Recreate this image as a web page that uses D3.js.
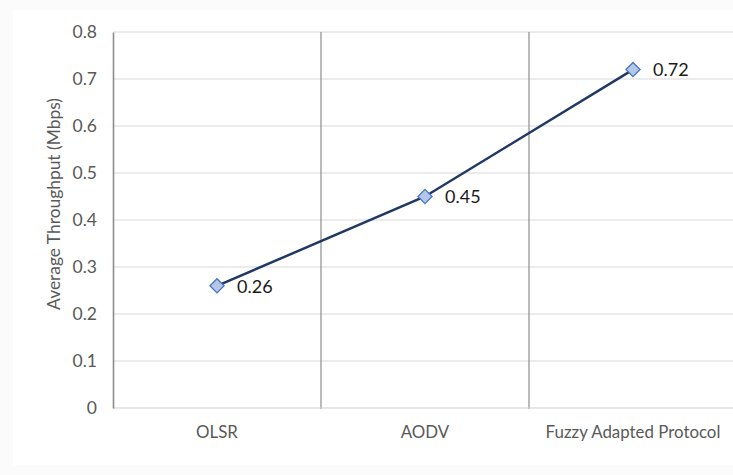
<!DOCTYPE html>
<html>
<head>
<meta charset="utf-8">
<script src="https://cdn.jsdelivr.net/npm/d3@7"></script>
<style>
  html, body { margin: 0; padding: 0; background: #ffffff; }
  svg { display: block; }
  svg text { font-family: Lato, "Open Sans", sans-serif; }
</style>
</head>
<body>
<svg id="chart" width="733" height="475"></svg>
<script>
// Average throughput per routing protocol
const categories = ["OLSR", "AODV", "Fuzzy Adapted Protocol"];
const throughput = [0.26, 0.45, 0.72];
const yTicks = [0, 0.1, 0.2, 0.3, 0.4, 0.5, 0.6, 0.7, 0.8];

const svg = d3.select("#chart");
const W = 733, H = 475;
const margin = { left: 113, top: 32, right: -4, bottom: 67 };

// size a text element's font so it spans the wanted width
function fitWidth(sel, target) {
  sel.style("font-size", "20px");
  const w = sel.node().getComputedTextLength();
  sel.style("font-size", (20 * target / w).toFixed(2) + "px");
}

// faint chart-area backdrop
svg.append("rect").attr("width", W).attr("height", H).attr("fill", "#fbfbfb");
svg.append("rect").attr("x", 13).attr("y", 10).attr("width", W - 13).attr("height", H - 20).attr("fill", "#ffffff");

const x = d3.scaleBand()
  .domain(categories)
  .range([margin.left, W - margin.right])
  .paddingInner(0).paddingOuter(0);

const y = d3.scaleLinear().domain([0, 0.8]).range([H - margin.bottom, margin.top]);

// horizontal gridlines
svg.append("g").selectAll("line").data(yTicks.filter(d => d > 0)).join("line")
  .attr("x1", margin.left).attr("x2", W)
  .attr("y1", d => y(d)).attr("y2", d => y(d))
  .attr("stroke", "#d9d9d9").attr("stroke-width", 1.2);

// category separators
svg.append("g").selectAll("line").data(categories.slice(1)).join("line")
  .attr("x1", d => x(d)).attr("x2", d => x(d))
  .attr("y1", y(0.8)).attr("y2", y(0) + 1)
  .attr("stroke", "#8c8c8c").attr("stroke-width", 1.2);

// x baseline
svg.append("line")
  .attr("x1", margin.left).attr("x2", W)
  .attr("y1", y(0)).attr("y2", y(0))
  .attr("stroke", "#d0d0d0").attr("stroke-width", 1.2);

// y axis
const yAxis = d3.axisLeft(y).tickValues(yTicks).tickSize(0).tickPadding(16)
  .tickFormat(d => d === 0 ? "0" : d3.format(".1f")(d));
const gy = svg.append("g").attr("transform", `translate(${margin.left},0)`).call(yAxis)
  .attr("font-family", null).attr("font-size", null);
gy.select(".domain").attr("stroke", "#8c8c8c").attr("stroke-width", 1.6);
gy.selectAll("text").attr("fill", "#595959").style("font-size", "17.5px");

// x axis labels
const xAxis = d3.axisBottom(x).tickSize(0).tickPadding(18);
const gx = svg.append("g").attr("transform", `translate(0,${y(0)})`).call(xAxis)
  .attr("font-family", null).attr("font-size", null);
gx.select(".domain").remove();
const xLabels = gx.selectAll("text").attr("fill", "#595959");
fitWidth(xLabels.filter(d => d === "Fuzzy Adapted Protocol"), 175);
xLabels.style("font-size", xLabels.filter(d => d === "Fuzzy Adapted Protocol").style("font-size"));

// y axis title
const title = svg.append("text")
  .attr("transform", `translate(60,204) rotate(-90)`)
  .attr("text-anchor", "middle")
  .attr("fill", "#595959")
  .text("Average Throughput (Mbps)");
fitWidth(title, 212);

const pts = categories.map((c, i) => ({ c, v: throughput[i] }));
const cx = d => x(d.c) + x.bandwidth() / 2;

// series line
svg.append("path").datum(pts)
  .attr("fill", "none").attr("stroke", "#203864").attr("stroke-width", 2.5)
  .attr("d", d3.line().x(cx).y(d => y(d.v)));

// diamond markers
svg.append("g").selectAll("path").data(pts).join("path")
  .attr("d", d3.symbol(d3.symbolSquare, 100)())
  .attr("transform", d => `translate(${cx(d)},${y(d.v)}) rotate(45)`)
  .attr("fill", "#b4c7e7").attr("stroke", "#4a74c0").attr("stroke-width", 1.3);

// value labels
svg.append("g").selectAll("text").data(pts).join("text")
  .attr("x", d => cx(d) + 20).attr("y", d => y(d.v))
  .attr("dy", "0.38em").attr("fill", "#1a1a1a").style("font-size", "18px")
  .text(d => d.v.toFixed(2));
</script>
</body>
</html>
